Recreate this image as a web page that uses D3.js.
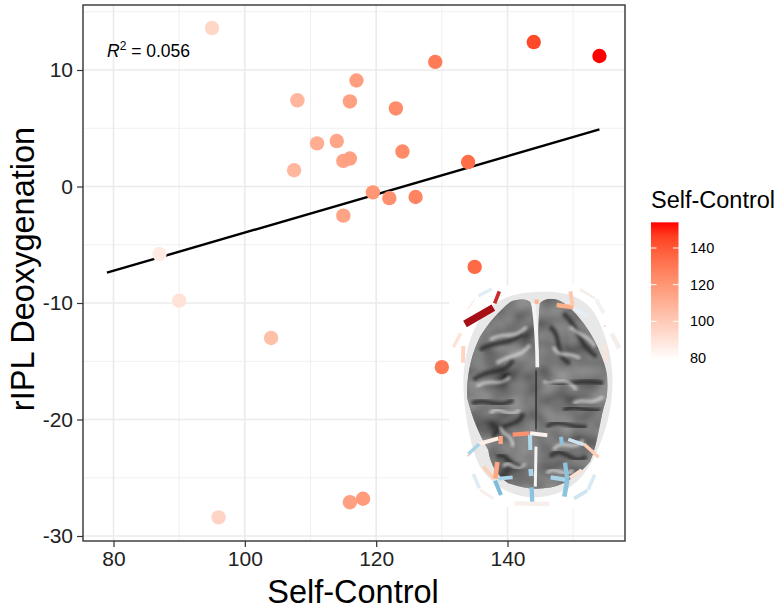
<!DOCTYPE html>
<html>
<head>
<meta charset="utf-8">
<script src="https://cdnjs.cloudflare.com/ajax/libs/d3/7.8.5/d3.min.js"></script>
<style>
  html, body { margin: 0; padding: 0; background: #fff; }
  text { font-family: "Liberation Sans", Arial, sans-serif; }
</style>
</head>
<body>
<script>
var width = 780;
var height = 609;

// values
var selfControl = [95, 144, 154, 129, 117, 108, 116, 123, 114, 111, 124, 115, 116, 134, 107.5, 119.5, 122, 126, 115, 87, 90, 104, 135, 130, 116, 118, 96];
var deoxygenation = [13.6, 12.4, 11.2, 10.7, 9.1, 7.4, 7.3, 6.7, 3.9, 3.7, 3.0, 2.2, 2.4, 2.1, 1.4, -0.5, -1.0, -0.9, -2.5, -5.8, -9.8, -13.0, -6.9, -15.5, -27.1, -26.8, -28.4];
var fitX = [79, 154];
var fitY = [-7.4, 4.9];
var xTicks = [80, 100, 120, 140];
var xMinor = [90, 110, 130, 150];
var yTicks = [-30, -20, -10, 0, 10];
var yMinor = [-25, -15, -5, 5, 15];
var legendTicks = [80, 100, 120, 140];

let svg = d3.select("body")
            .append("svg")
            .attr("width", width)
            .attr("height", height)
            .style("display", "block");

let defs = svg.append("defs");

// px = value mapping taken from the tick positions
let xScale = d3.scaleLinear().domain([80, 140]).range([113.5, 507.5]);
let yScale = d3.scaleLinear().domain([-30, 10]).range([536, 70]);
let colorScale = d3.scaleLinear()
                   .domain([79, 154])
                   .range(["#ffffff", "#ff0000"])
                   .interpolate(d3.interpolateLab);

let panel = {left: 83, right: 625, top: 5, bottom: 541};

// grid
let grid = svg.append("g");
grid.selectAll(".vmin").data(xMinor).join("line")
    .attr("x1", d => xScale(d)).attr("x2", d => xScale(d))
    .attr("y1", panel.top).attr("y2", panel.bottom)
    .attr("stroke", "#f0f0f0").attr("stroke-width", 1);
grid.selectAll(".hmin").data(yMinor).join("line")
    .attr("x1", panel.left).attr("x2", panel.right)
    .attr("y1", d => yScale(d)).attr("y2", d => yScale(d))
    .attr("stroke", "#f0f0f0").attr("stroke-width", 1);
grid.selectAll(".vmaj").data(xTicks).join("line")
    .attr("x1", d => xScale(d)).attr("x2", d => xScale(d))
    .attr("y1", panel.top).attr("y2", panel.bottom)
    .attr("stroke", "#ebebeb").attr("stroke-width", 1.6);
grid.selectAll(".hmaj").data(yTicks).join("line")
    .attr("x1", panel.left).attr("x2", panel.right)
    .attr("y1", d => yScale(d)).attr("y2", d => yScale(d))
    .attr("stroke", "#ebebeb").attr("stroke-width", 1.6);

svg.append("path")
   .datum(d3.zip(fitX, fitY))
   .attr("fill", "none")
   .attr("stroke", "#000")
   .attr("stroke-width", 2.4)
   .attr("d", d3.line().x(d => xScale(d[0])).y(d => yScale(d[1])));

drawBrain();

svg.selectAll(".dot")
   .data(d3.zip(selfControl, deoxygenation))
   .join("circle")
     .attr("cx", d => xScale(d[0]))
     .attr("cy", d => yScale(d[1]))
     .attr("r", 7.2)
     .attr("fill", d => colorScale(d[0]));

// panel border
svg.append("rect")
   .attr("x", panel.left).attr("y", panel.top)
   .attr("width", panel.right - panel.left)
   .attr("height", panel.bottom - panel.top)
   .attr("fill", "none")
   .attr("stroke", "#333")
   .attr("stroke-width", 1.4);

// axes
let xAxis = svg.append("g")
               .attr("transform", `translate(0,${panel.bottom})`)
               .call(d3.axisBottom(xScale).tickValues(xTicks).tickSize(6).tickPadding(4));
let yAxis = svg.append("g")
               .attr("transform", `translate(${panel.left},0)`)
               .call(d3.axisLeft(yScale).tickValues(yTicks).tickSize(6).tickPadding(4).tickFormat(d => d));
[xAxis, yAxis].forEach(function(a){
  a.select(".domain").remove();
  a.selectAll("line").attr("stroke", "#333").attr("stroke-width", 1.2);
  a.selectAll("text").attr("fill", "#222").style("font-size", "21px");
});

svg.append("text")
   .attr("x", 353).attr("y", 603)
   .attr("text-anchor", "middle")
   .style("font-size", "32.5px")
   .text("Self-Control");

svg.append("text")
   .attr("transform", "translate(34,269) rotate(-90)")
   .attr("text-anchor", "middle")
   .style("font-size", "32.5px")
   .text("rIPL Deoxygenation");

// R2 note
let r2 = svg.append("text")
            .attr("x", 107).attr("y", 57)
            .style("font-size", "17.5px");
r2.append("tspan").style("font-style", "italic").text("R");
r2.append("tspan").attr("dy", -7).style("font-size", "12px").text("2");
r2.append("tspan").attr("dy", 7).text(" = 0.056");

// legend
let legendY = d3.scaleLinear().domain([80, 140]).range([358, 248]);
let grad = defs.append("linearGradient")
               .attr("id", "legendGrad")
               .attr("x1", 0).attr("x2", 0).attr("y1", 1).attr("y2", 0);
d3.range(0, 1.01, 0.1).forEach(function(t){
  grad.append("stop")
      .attr("offset", t)
      .attr("stop-color", colorScale(79 + t * 75));
});
svg.append("rect")
   .attr("x", 651).attr("width", 27.5)
   .attr("y", legendY(154)).attr("height", legendY(79) - legendY(154))
   .attr("fill", "url(#legendGrad)");
let legend = svg.append("g");
legend.selectAll(".tl").data(legendTicks.filter(d => d > 80)).join("line")
      .attr("x1", 651).attr("x2", 656.5)
      .attr("y1", d => legendY(d)).attr("y2", d => legendY(d))
      .attr("stroke", "#fff").attr("stroke-width", 1);
legend.selectAll(".tr").data(legendTicks.filter(d => d > 80)).join("line")
      .attr("x1", 673).attr("x2", 678.5)
      .attr("y1", d => legendY(d)).attr("y2", d => legendY(d))
      .attr("stroke", "#fff").attr("stroke-width", 1);
legend.selectAll("text").data(legendTicks).join("text")
      .attr("x", 690)
      .attr("y", d => legendY(d) + 5)
      .style("font-size", "14.5px")
      .text(d => d);
svg.append("text")
   .attr("x", 651).attr("y", 208)
   .style("font-size", "23.5px")
   .text("Self-Control");

// inset picture, path coordinates are in 3x crop units from (430,270)
function drawBrain(){
  let g = svg.append("g").attr("transform", "translate(430,270) scale(0.3333)");

  g.append("rect")
   .attr("x", 58).attr("y", 46).attr("width", 525).attr("height", 666)
   .attr("fill", "#fff");

  // pale head outline
  g.append("path")
   .attr("d", "M320,66 C400,62 470,75 505,150 C535,215 555,290 545,380 C540,450 510,540 470,600 C430,660 370,682 310,682 C250,682 190,650 150,590 C120,530 100,420 100,330 C105,220 140,140 190,105 C230,75 270,68 320,66 Z")
   .attr("fill", "#e8e8e8");

  let brainShape = "M240,97 C255,88 285,85 300,95 C312,120 318,200 322,290 C326,200 325,130 330,100 C345,82 375,82 400,98 C440,125 490,190 515,260 C532,300 538,340 528,390 C510,440 505,520 480,575 C440,620 400,650 340,655 C300,660 270,650 235,640 C205,620 180,585 175,540 C150,500 125,440 112,385 C108,320 125,250 150,200 C175,160 205,125 240,97 Z";
  defs.append("clipPath").attr("id", "brainClip").append("path").attr("d", brainShape);

  let tex = defs.append("filter").attr("id", "brainTex")
                .attr("x", 0).attr("y", 0).attr("width", "100%").attr("height", "100%");
  tex.append("feTurbulence").attr("type", "fractalNoise").attr("baseFrequency", "0.012 0.014")
     .attr("numOctaves", 2).attr("seed", 11);
  tex.append("feColorMatrix").attr("type", "matrix")
     .attr("values", "0.9 0 0 0 -0.12  0.9 0 0 0 -0.12  0.9 0 0 0 -0.12  0 0 0 0 1");

  defs.append("filter").attr("id", "soft").append("feGaussianBlur").attr("stdDeviation", 4);

  let brain = g.append("g").attr("clip-path", "url(#brainClip)");
  brain.append("rect").attr("x", 100).attr("y", 80).attr("width", 450).attr("height", 590)
       .attr("fill", "#4e4e4e");
  brain.append("rect").attr("x", 100).attr("y", 80).attr("width", 450).attr("height", 590)
       .attr("filter", "url(#brainTex)").attr("opacity", 0.55);

  // dark sulci
  let sulci = ["M150,240 C190,210 230,230 280,190", "M130,330 C180,290 220,320 250,270", "M125,400 C170,380 200,420 250,390",
               "M360,170 C400,200 370,260 420,280", "M400,130 C450,170 440,220 500,260", "M350,330 C400,360 440,320 520,340",
               "M400,420 C440,400 470,430 510,420", "M190,500 C210,450 260,480 280,430", "M350,470 C390,440 420,480 470,470",
               "M200,560 C230,540 240,600 280,590", "M360,560 C400,520 420,590 470,560", "M320,300 L318,480"];
  brain.selectAll(".sulcus").data(sulci).join("path")
       .attr("d", d => d).attr("fill", "none")
       .attr("stroke", "#2c2c2c").attr("stroke-width", 14).attr("opacity", 0.8).attr("filter", "url(#soft)");
  // bright gyri
  let gyri = ["M180,210 C220,180 250,215 290,170", "M200,280 C240,250 270,265 300,225", "M140,350 C180,320 210,355 240,320",
              "M180,430 C210,400 230,450 270,420", "M370,230 C390,270 410,240 450,265", "M420,170 C450,200 470,190 495,230",
              "M340,335 C380,345 400,310 440,360", "M430,400 C460,380 480,410 520,380", "M210,470 C225,510 240,480 250,530",
              "M370,540 C400,500 430,550 460,510", "M220,590 C240,560 260,620 285,580", "M350,610 C380,580 400,630 430,600"];
  brain.selectAll(".gyrus").data(gyri).join("path")
       .attr("d", d => d).attr("fill", "none")
       .attr("stroke", "#e0e0e0").attr("stroke-width", 10).attr("opacity", 0.75).attr("filter", "url(#soft)");

  // fissure
  g.append("path").attr("d", "M310,100 C316,150 322,220 322,292")
   .attr("stroke", "#f4f4f4").attr("stroke-width", 11).attr("fill", "none");
  g.append("path").attr("d", "M318,530 L316,650")
   .attr("stroke", "#f4f4f4").attr("stroke-width", 9).attr("fill", "none");

  // channel bars: x1, y1, x2, y2, colour, thickness
  let channels = [
    [105,162,190,113,"#a50f15",22],[194,100,208,64,"#cb2b2b",11],[112,118,135,88,"#fde0d2",3],
    [145,78,186,56,"#e3edf4",10],[70,232,92,190,"#fde3d6",10],[100,228,99,278,"#fdd5c0",12],
    [314,95,326,95,"#fcb48c",13],[380,105,430,112,"#fcb08a",13],[421,64,428,108,"#fdc9ae",12],
    [432,115,475,140,"#e5f0f6",9],[450,58,495,85,"#f7ece7",8],[498,88,522,130,"#f0f2f4",12],
    [522,168,528,168,"#fde0d0",6],[545,190,568,235,"#f5efec",14],[524,225,526,275,"#fde3d6",9],
    [145,522,205,505,"#fdefe8",12],[212,498,212,522,"#fca682",13],[115,552,148,522,"#a9d4e9",11],
    [112,558,118,555,"#fcc4a8",5],[248,494,298,490,"#fc9170",13],[300,490,352,496,"#f8f2ef",12],
    [300,495,301,540,"#b3d9ec",12],[393,500,396,524,"#8cc3df",12],[415,508,462,524,"#cfe6f2",10],
    [462,522,506,562,"#fdd0b5",10],[160,590,192,626,"#fdd0b5",10],[202,576,196,626,"#fca682",14],
    [205,626,248,622,"#a9d4e9",11],[195,632,213,675,"#7fbcd9",12],[302,597,304,618,"#a9d4e9",14],
    [305,652,307,702,"#8cc3df",13],[362,622,410,630,"#a9d4e9",13],[405,578,412,630,"#8cc3df",13],
    [412,630,403,680,"#8cc3df",14],[420,624,455,600,"#fde0d0",10],[130,612,148,655,"#e0ecf3",11],
    [150,660,190,685,"#f8eeea",9],[254,700,358,702,"#f8efea",13],[432,686,472,662,"#cfe6f2",11],
    [474,660,494,614,"#d8eaf3",11]
  ];
  g.selectAll(".channel").data(channels).join("line")
   .attr("x1", d => d[0]).attr("y1", d => d[1])
   .attr("x2", d => d[2]).attr("y2", d => d[3])
   .attr("stroke", d => d[4]).attr("stroke-width", d => d[5]);
}
</script>
</body>
</html>
